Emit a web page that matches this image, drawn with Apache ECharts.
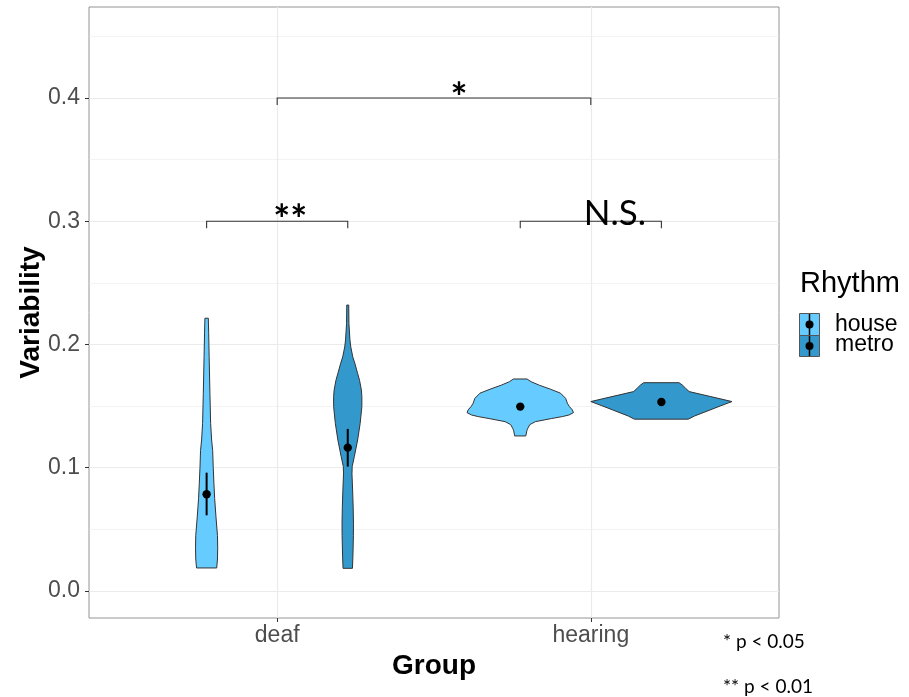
<!DOCTYPE html>
<html>
<head>
<meta charset="utf-8">
<script src="https://cdn.jsdelivr.net/npm/echarts@6/dist/echarts.min.js"></script>
<style>
  html, body { margin: 0; padding: 0; background: #ffffff; }
  #chart { width: 909px; height: 697px; }
</style>
</head>
<body>
<div id="chart"></div>
<script>
// Groups on the x axis and the rhythm conditions dodged inside each group
const groups = ['deaf', 'hearing'];
const rhythms = ['house', 'metro'];

// Violin outlines: sampled Variability values and relative density (1 = widest violin)
const deafHouseY = [0.0187, 0.026, 0.035, 0.045, 0.060, 0.075, 0.087, 0.100, 0.114, 0.1225, 0.136, 0.160, 0.190, 0.210, 0.2213];
const deafHouseD = [0.143, 0.154, 0.157, 0.154, 0.133, 0.114, 0.104, 0.094, 0.086, 0.071, 0.057, 0.047, 0.036, 0.029, 0.024];

const deafMetroY = [0.0184, 0.030, 0.045, 0.055, 0.068, 0.082, 0.095, 0.101, 0.109, 0.1225, 0.136, 0.1496, 0.1577, 0.163, 0.171, 0.1767, 0.1848, 0.190, 0.198, 0.2037, 0.217, 0.232];
const deafMetroD = [0.067, 0.074, 0.080, 0.081, 0.077, 0.069, 0.060, 0.063, 0.093, 0.140, 0.176, 0.200, 0.200, 0.193, 0.167, 0.139, 0.100, 0.071, 0.043, 0.031, 0.017, 0.014];

const hearingHouseY = [0.1258, 0.130, 0.132, 0.135, 0.1374, 0.1399, 0.1415, 0.1428, 0.1447, 0.1469, 0.1496, 0.1524, 0.1563, 0.1605, 0.1637, 0.167, 0.1698, 0.172];
const hearingHouseD = [0.079, 0.093, 0.107, 0.136, 0.214, 0.440, 0.596, 0.690, 0.754, 0.739, 0.697, 0.667, 0.643, 0.571, 0.429, 0.269, 0.154, 0.096];

const hearingMetroY = [0.1394, 0.1420, 0.1469, 0.1503, 0.1537, 0.1577, 0.1618, 0.1645, 0.1671, 0.1690];
const hearingMetroD = [0.381, 0.471, 0.690, 0.843, 1.000, 0.700, 0.393, 0.343, 0.297, 0.250];

// Group means with error bar limits (deaf, hearing)
const houseMean = [0.0785, 0.1496];
const houseLow  = [0.0614, 0.1474];
const houseHigh = [0.0960, 0.1518];
const metroMean = [0.1163, 0.1534];
const metroLow  = [0.1009, 0.1512];
const metroHigh = [0.1315, 0.1556];

// Pairwise comparisons: x span, bracket height, significance label
const bracketStart = [1, 0.775, 1.775];
const bracketEnd   = [2, 1.225, 2.225];
const bracketLevel = [0.4, 0.3, 0.3];
const bracketLabel = ['*', '**', 'N.S.'];

// Axis ticks
const yTicks = [0, 0.1, 0.2, 0.3, 0.4];
const yMinorTicks = [0.05, 0.15, 0.25, 0.35, 0.45];
const xTicks = [1, 2];

const footnotes = ['* p < 0.05', '** p < 0.01'];

// ---- drawing ----
const COLORS = ['#66CCFF', '#3399CC'];
const DODGE = [-0.225, 0.225];
const HALF = 0.225;
const OUTLINE = '#333333';
const GRID = '#EBEBEB';
const TEXT_SANS = '"Liberation Sans", Arial, sans-serif';
const NOTE_FONT = 'Lato, "Open Sans", sans-serif';

const profiles = {
  house: [[deafHouseY, deafHouseD], [hearingHouseY, hearingHouseD]],
  metro: [[deafMetroY, deafMetroD], [hearingMetroY, hearingMetroD]]
};
const means = {
  house: [houseMean, houseLow, houseHigh],
  metro: [metroMean, metroLow, metroHigh]
};

function violinSeries(ri) {
  const key = rhythms[ri];
  return {
    type: 'custom',
    name: key,
    coordinateSystem: 'cartesian2d',
    data: groups.map((g, gi) => [gi + 1, 0]),
    encode: { x: 0, y: 1 },
    z: 2,
    silent: true,
    renderItem(params, api) {
      const gi = params.dataIndex;
      const cx = api.value(0) + DODGE[ri];
      const ys = profiles[key][gi][0];
      const ds = profiles[key][gi][1];
      const pts = [];
      for (let k = 0; k < ys.length; k++) pts.push(api.coord([cx - ds[k] * HALF, ys[k]]));
      for (let k = ys.length - 1; k >= 0; k--) pts.push(api.coord([cx + ds[k] * HALF, ys[k]]));
      return {
        type: 'polygon',
        shape: { points: pts },
        style: { fill: COLORS[ri], stroke: OUTLINE, lineWidth: 1 }
      };
    }
  };
}

function meanSeries(ri) {
  const key = rhythms[ri];
  const [m, lo, hi] = means[key];
  return {
    type: 'custom',
    name: key + ' mean',
    coordinateSystem: 'cartesian2d',
    data: groups.map((g, gi) => [gi + 1, m[gi], lo[gi], hi[gi]]),
    encode: { x: 0, y: 1 },
    z: 3,
    silent: true,
    renderItem(params, api) {
      const x = api.value(0) + DODGE[ri];
      const c = api.coord([x, api.value(1)]);
      const a = api.coord([x, api.value(2)]);
      const b = api.coord([x, api.value(3)]);
      return {
        type: 'group',
        children: [
          { type: 'line', shape: { x1: a[0], y1: a[1], x2: b[0], y2: b[1] }, style: { stroke: '#000', lineWidth: 2 } },
          { type: 'circle', shape: { cx: c[0], cy: c[1], r: 4.2 }, style: { fill: '#000' } }
        ]
      };
    }
  };
}

// label placement in pixels relative to the bracket middle, and label fonts
const LABEL_NUDGE = [[25, 1], [13, 0], [24, -8]];
const LABEL_FONT = [`bold 40px ${NOTE_FONT}`, `bold 40px ${NOTE_FONT}`, `35px ${NOTE_FONT}`];

const bracketSeries = {
  type: 'custom',
  name: 'comparisons',
  coordinateSystem: 'cartesian2d',
  data: bracketStart.map((s, i) => [s, bracketLevel[i], bracketEnd[i]]),
  encode: { x: 0, y: 1 },
  z: 4,
  silent: true,
  renderItem(params, api) {
    const i = params.dataIndex;
    const p1 = api.coord([api.value(0), api.value(1)]);
    const p2 = api.coord([api.value(2), api.value(1)]);
    const tip = 7;
    const midX = (p1[0] + p2[0]) / 2;
    return {
      type: 'group',
      children: [
        {
          type: 'polyline',
          shape: { points: [[p1[0], p1[1] + tip], p1, p2, [p2[0], p2[1] + tip]] },
          style: { stroke: '#333', lineWidth: 1.1, fill: null }
        },
        {
          type: 'text',
          style: {
            x: midX + LABEL_NUDGE[i][0],
            y: p1[1] + LABEL_NUDGE[i][1],
            text: bracketLabel[i],
            font: LABEL_FONT[i],
            fill: '#000',
            align: 'center',
            verticalAlign: 'middle'
          }
        }
      ]
    };
  }
};

const chart = echarts.init(document.getElementById('chart'), null, { renderer: 'canvas' });

const yBase = {
  type: 'value',
  min: -0.0219,
  max: 0.4738
};

chart.setOption({
  animation: false,
  backgroundColor: '#ffffff',
  grid: {
    left: 89, right: 130, top: 7, bottom: 79,
    show: true, borderColor: '#949494', borderWidth: 1, backgroundColor: 'transparent'
  },
  xAxis: {
    type: 'value',
    min: 0.4, max: 2.6,
    name: 'Group',
    nameLocation: 'middle',
    nameGap: 28,
    nameTextStyle: { fontFamily: TEXT_SANS, fontSize: 28, fontWeight: 'bold', color: '#000' },
    axisLine: { show: false, onZero: false },
    axisTick: { show: true, customValues: xTicks, length: 4, lineStyle: { color: '#333' } },
    axisLabel: {
      customValues: xTicks,
      formatter: v => groups[Math.round(v) - 1] || '',
      fontFamily: TEXT_SANS, fontSize: 23, color: '#4D4D4D', margin: 6
    },
    splitLine: { show: true, lineStyle: { color: GRID, width: 1.2 } }
  },
  yAxis: [
    Object.assign({}, yBase, {
      name: 'Variability',
      nameLocation: 'middle',
      nameGap: 44,
      nameMoveOverlap: false,
      nameRotate: 90,
      nameTextStyle: { fontFamily: TEXT_SANS, fontSize: 28, fontWeight: 'bold', color: '#000' },
      axisLine: { show: false, onZero: false },
      axisTick: { show: true, customValues: yTicks, length: 4, lineStyle: { color: '#333' } },
      axisLabel: {
        customValues: yTicks,
        formatter: v => v.toFixed(1),
        fontFamily: TEXT_SANS, fontSize: 23, color: '#4D4D4D', margin: 9
      },
      splitLine: { show: true, lineStyle: { color: GRID, width: 1.2 } }
    }),
    Object.assign({}, yBase, {
      position: 'left',
      axisLine: { show: false, onZero: false },
      axisTick: { show: false, customValues: yMinorTicks },
      axisLabel: { show: false, customValues: yMinorTicks },
      splitLine: { show: true, lineStyle: { color: GRID, width: 0.6 } }
    })
  ],
  series: [violinSeries(0), violinSeries(1), meanSeries(0), meanSeries(1), bracketSeries],
  graphic: [
    { type: 'text', x: 800, y: 284,
      style: { text: 'Rhythm', font: `29px ${TEXT_SANS}`, fill: '#000', verticalAlign: 'middle' } },
    // legend keys
    { type: 'rect', shape: { x: 799.5, y: 313.5, width: 20, height: 22 },
      style: { fill: COLORS[0], stroke: '#555', lineWidth: 1 } },
    { type: 'rect', shape: { x: 799.5, y: 335.5, width: 20, height: 21 },
      style: { fill: COLORS[1], stroke: '#555', lineWidth: 1 } },
    { type: 'line', shape: { x1: 809.5, y1: 314, x2: 809.5, y2: 335 }, style: { stroke: '#000', lineWidth: 1.5 } },
    { type: 'circle', shape: { cx: 809.5, cy: 324.5, r: 4 }, style: { fill: '#000' } },
    { type: 'line', shape: { x1: 809.5, y1: 336, x2: 809.5, y2: 356 }, style: { stroke: '#000', lineWidth: 1.5 } },
    { type: 'circle', shape: { cx: 809.5, cy: 346, r: 4 }, style: { fill: '#000' } },
    { type: 'text', x: 835, y: 325,
      style: { text: rhythms[0], font: `23px ${TEXT_SANS}`, fill: '#000', verticalAlign: 'middle' } },
    { type: 'text', x: 835, y: 345,
      style: { text: rhythms[1], font: `23px ${TEXT_SANS}`, fill: '#000', verticalAlign: 'middle' } },
    // significance key
    { type: 'text', x: 723, y: 642,
      style: { text: footnotes[0], font: `19px ${NOTE_FONT}`, fill: '#000', verticalAlign: 'middle' } },
    { type: 'text', x: 723, y: 687,
      style: { text: footnotes[1], font: `19px ${NOTE_FONT}`, fill: '#000', verticalAlign: 'middle' } }
  ]
});
</script>
</body>
</html>
